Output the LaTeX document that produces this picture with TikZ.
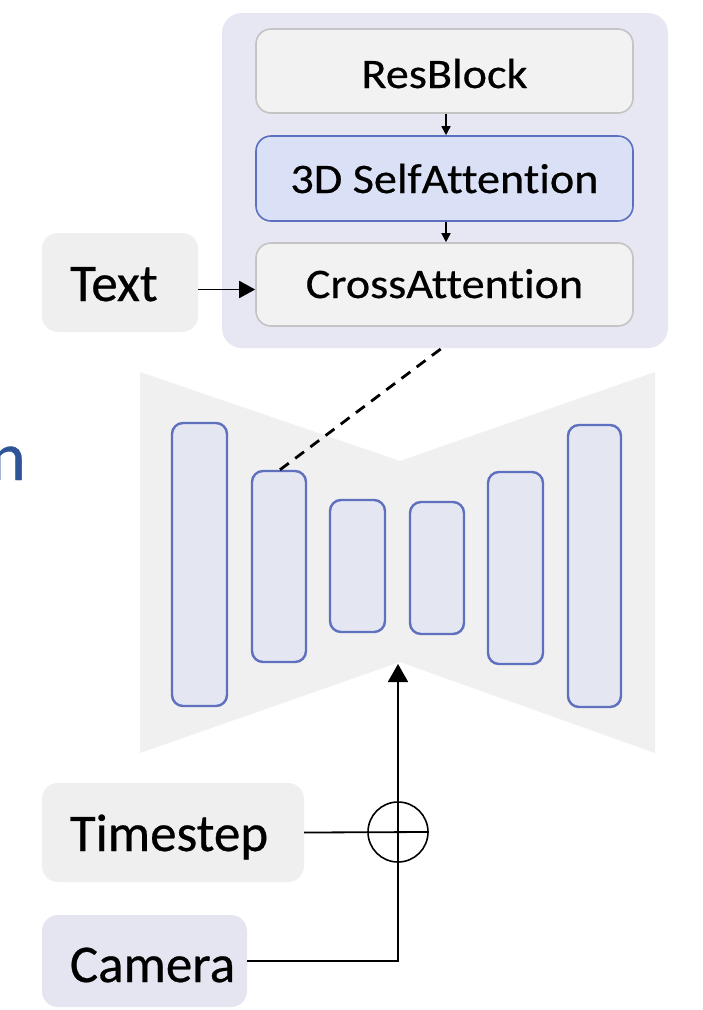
\documentclass[tikz,border=0pt]{standalone}
\usepackage{fontspec}
\setmainfont[Ligatures=NoCommon, FakeBold=0.5]{Carlito}
\newfontfamily\boxfont[Ligatures=NoCommon, FakeBold=0.5, FakeStretch=1.1]{Carlito}
\usetikzlibrary{arrows.meta,calc}

\definecolor{panelbg}{RGB}{230,231,242}
\definecolor{graybg}{RGB}{242,242,242}
\definecolor{graybd}{RGB}{196,196,196}
\definecolor{attnbg}{RGB}{218,224,246}
\definecolor{attnbd}{RGB}{92,112,192}
\definecolor{inputbg}{RGB}{239,239,239}
\definecolor{cambg}{RGB}{228,229,241}
\definecolor{unetbg}{RGB}{240,240,240}
\definecolor{blockbg}{RGB}{228,230,242}
\definecolor{blockbd}{RGB}{95,112,190}
\definecolor{titleblue}{RGB}{47,85,151}

\begin{document}
\begin{tikzpicture}[x=1pt,y=-1pt,
  panel/.style={rounded corners=20pt, fill=panelbg, draw=none, inner sep=0pt},
  layerbox/.style={rounded corners=15pt, draw=graybd, fill=graybg, line width=1.6pt,
    minimum width=377pt, inner sep=0pt, text depth=0pt,
    font=\boxfont\fontsize{42}{50}\selectfont},
  attnbox/.style={layerbox, draw=attnbd, fill=attnbg},
  inputbox/.style={rounded corners=16pt, fill=inputbg, draw=none, inner sep=0pt,
    text depth=0pt, font=\fontsize{53}{60}\selectfont},
  unetblock/.style={rounded corners=11pt, draw=blockbd, fill=blockbg, line width=2.4pt, inner sep=0pt},
  conn/.style={line width=1.8pt, draw=black},
  smallarrow/.style={line width=1.5pt, -{Triangle[length=9pt,width=9pt]}},
  midarrow/.style={line width=1.8pt, -{Triangle[length=16pt,width=17pt]}},
  bigarrow/.style={line width=1.8pt, -{Triangle[length=18pt,width=20pt]}}
]
\useasboundingbox (0,0) rectangle (702,1010);
\fill[white] (0,0) rectangle (702,1010);

% partial heading on the left margin
\node[anchor=base east, inner sep=0pt, text=titleblue, font=\fontsize{69}{80}\selectfont] (heading) at (26,480) {n};

% U-Net body (bow-tie silhouette)
\fill[unetbg] (140,372) -- (400,461) -- (655,372) -- (655,753) -- (400,662) -- (140,753) -- cycle;
\coordinate (apex) at (398,664);

% encoder / decoder stages
\node[unetblock, minimum width=55pt, minimum height=283pt] (b1) at (199.5,564.5) {};
\node[unetblock, minimum width=54pt, minimum height=191pt] (b2) at (279,566.5) {};
\node[unetblock, minimum width=55pt, minimum height=132pt] (b3) at (357.5,566) {};
\node[unetblock, minimum width=54pt, minimum height=132pt] (b4) at (437,568) {};
\node[unetblock, minimum width=55pt, minimum height=192pt] (b5) at (515.5,568) {};
\node[unetblock, minimum width=53pt, minimum height=282pt] (b6) at (594.5,566) {};

% expanded transformer block
\node[panel, minimum width=446pt, minimum height=335pt] (panel) at (445,180.5) {};
\node[layerbox, minimum height=84pt, text height=34pt] (res) at (444.5,71) {ResBlock};
\node[attnbox, minimum height=85pt, text height=29pt] (self) at (444.5,178.5) {3D SelfAttention};
\node[layerbox, minimum height=83pt, text height=27pt] (cross) at (444.5,284.5) {CrossAttention};

\draw[smallarrow] ([xshift=1.5pt]res.south) -- ([xshift=1.5pt]self.north);
\draw[smallarrow] ([xshift=1.5pt]self.south) -- ([xshift=1.5pt]cross.north);

% conditioning inputs
\node[inputbox, minimum width=156pt, minimum height=99pt, text height=37pt] (txt) at (120,282.5) {\hspace*{-12pt}Text};
\node[inputbox, minimum width=262pt, minimum height=99pt, text height=37pt] (ts) at (173,832.5) {\hspace*{-8pt}Timestep};
\node[inputbox, fill=cambg, minimum width=205pt, minimum height=92pt, text height=42pt] (cam) at (144.5,961) {\hspace*{16pt}Camera};

\draw[midarrow] ([yshift=-7pt]txt.east) -- ([yshift=-7pt]txt.east -| cross.west);

% link between the U-Net stage and its expanded view
\coordinate (dashend) at (442,348);
\draw[line width=2.8pt, dash pattern=on 11pt off 8pt] ([xshift=1pt]b2.north) -- (dashend);

% timestep + camera embedding sum
\node[circle, draw, line width=1.6pt, minimum size=60pt, inner sep=0pt] (plus) at (398,832) {};
\draw[conn] (ts.east) -- (plus.east);
\draw[conn] (cam.east) -| (plus.south);
\draw[bigarrow] (cam.east -| plus.south) -- (apex);
\end{tikzpicture}
\end{document}
